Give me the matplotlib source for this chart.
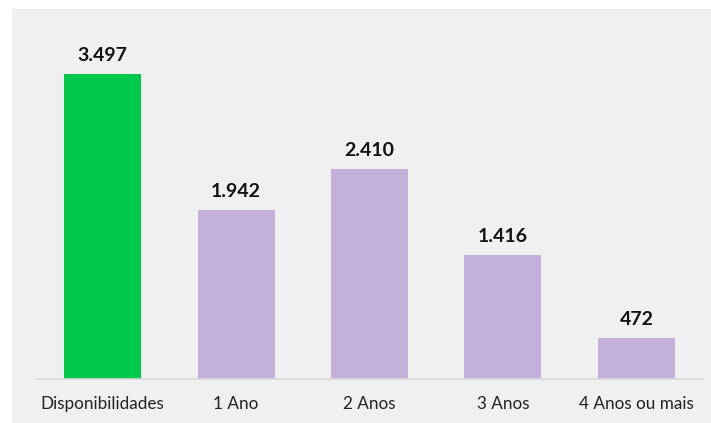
import matplotlib
matplotlib.use('Agg')
import matplotlib.pyplot as plt
from matplotlib.patches import Rectangle

# dados
categorias = ['Disponibilidades', '1 Ano', '2 Anos', '3 Anos', '4 Anos ou mais']
valores = [3497, 1942, 2410, 1416, 472]
rotulos = ['3.497', '1.942', '2.410', '1.416', '472']
cores = ['#00c84a', '#c3b1db', '#c3b1db', '#c3b1db', '#c3b1db']

plt.rcParams['font.family'] = ['Lato', 'DejaVu Sans']

fig = plt.figure(figsize=(7.11, 4.23), dpi=100)
fig.patch.set_facecolor('white')
# fundo cinzento do gráfico
fig.add_artist(Rectangle((12/711, 0), 1 - 12/711, 1 - 9/423,
                         transform=fig.transFigure, facecolor='#f0f0f0',
                         edgecolor='none', zorder=-10))

ax = fig.add_axes([36/711, 44/423, 667/711, 349/423])
ax.set_zorder(1)
ax.patch.set_alpha(0)

x = range(len(categorias))
barras = ax.bar(x, valores, width=0.577, color=cores, zorder=2)

for b, r in zip(barras, rotulos):
    ax.annotate(r, (b.get_x() + b.get_width()/2, b.get_height()),
                xytext=(0, 10), textcoords='offset pixels',
                ha='center', va='bottom', fontsize=14, fontweight='bold', color='#111111')

ax.set_xlim(-0.5, 4.5)
ax.set_ylim(0, 4000)
ax.set_xticks(list(x))
ax.set_xticklabels(categorias, fontsize=12.3, color='#222222')
ax.tick_params(axis='x', length=0, pad=12)
ax.set_yticks([])
for s in ['top', 'right', 'left']:
    ax.spines[s].set_visible(False)
ax.spines['bottom'].set_color('#d9d9d9')
ax.spines['bottom'].set_linewidth(1.2)

plt.savefig('out.png', dpi=100)
